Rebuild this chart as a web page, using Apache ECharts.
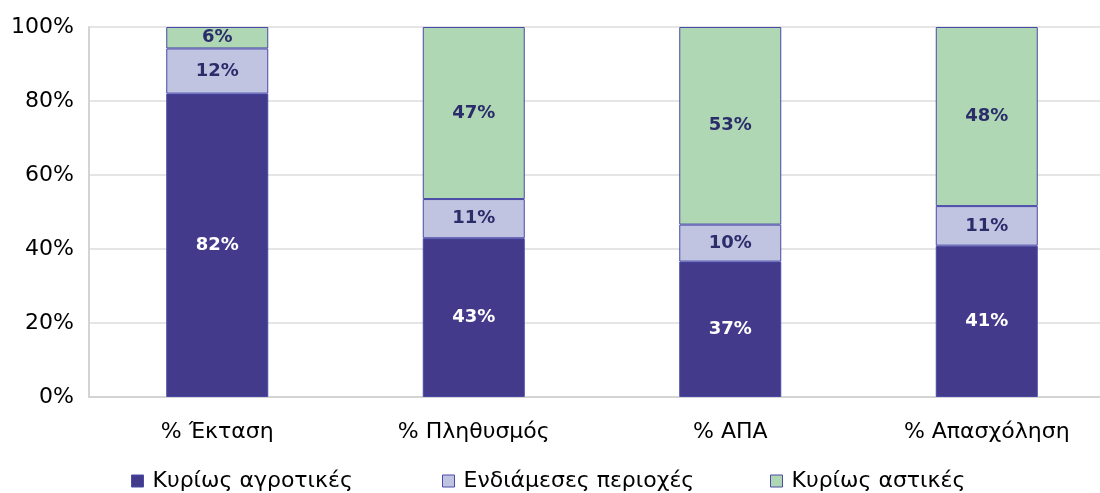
<!DOCTYPE html>
<html><head><meta charset="utf-8">
<script src="https://cdn.jsdelivr.net/npm/echarts@6/dist/echarts.min.js"></script>
<style>html,body{margin:0;padding:0;background:#fff;overflow:hidden}#c{width:1115px;height:493px}</style>
</head><body><div id="c"></div>
<script>
var categories = ['% Έκταση', '% Πληθυσμός', '% ΑΠΑ', '% Απασχόληση'];
var seriesNames = ['Κυρίως αγροτικές', 'Ενδιάμεσες περιοχές', 'Κυρίως αστικές'];
var rural = [82.0, 42.9, 36.6, 40.9];
var intermediate = [12.2, 10.6, 10.0, 10.7];
var urban = [5.8, 46.5, 53.4, 48.4];
var yTicks = [0, 20, 40, 60, 80, 100];

var colors = ['#433a8b', '#c1c4e1', '#afd7b4'];
var labelColors = ['#ffffff', '#2b2d6b', '#2b2d6b'];
var font = "'DejaVu Sans', Verdana, sans-serif";
var data = [rural, intermediate, urban];
var legendLeft = [126, 437, 765];

var chart = echarts.init(document.getElementById('c'));
chart.setOption({
  animation: false,
  grid: {left: 89, right: 0, top: 27, bottom: 96},
  legend: seriesNames.map(function(n, i){
    return {
      top: 465, left: legendLeft[i],
      itemWidth: 12, itemHeight: 12, icon: 'rect',
      textStyle: {fontFamily: font, fontSize: 22, color: '#000', padding: [0, 0, 0, 4]},
      data: [{name: n, itemStyle: {color: colors[i], borderColor: '#4b4ba8', borderWidth: 1}}]
    };
  }),
  xAxis: {
    type: 'category', data: categories,
    axisLine: {show: true, lineStyle: {color: '#d4d4d4', width: 2}},
    axisTick: {show: false},
    axisLabel: {fontFamily: font, fontSize: 22, color: '#000', margin: 24}
  },
  yAxis: {
    type: 'value', min: 0, max: 100, interval: 20,
    axisLine: {show: true, lineStyle: {color: '#d4d4d4', width: 2}},
    axisTick: {show: false},
    splitLine: {lineStyle: {color: '#dcdcdc', width: 1.5}},
    axisLabel: {fontFamily: font, fontSize: 22, color: '#000', margin: 15,
      formatter: function(v){ return yTicks.indexOf(v) >= 0 ? v + '%' : ''; }}
  },
  series: seriesNames.map(function(n, i){
    return {
      name: n, type: 'bar', stack: 'total', barWidth: 102,
      data: data[i],
      itemStyle: {color: colors[i], borderColor: '#4848a6', borderWidth: 1},
      label: {show: true, position: 'inside', fontFamily: font, fontWeight: 'bold', fontSize: 18,
        color: labelColors[i], formatter: function(p){ return Math.round(p.value) + '%'; }}
    };
  })
});
</script></body></html>
